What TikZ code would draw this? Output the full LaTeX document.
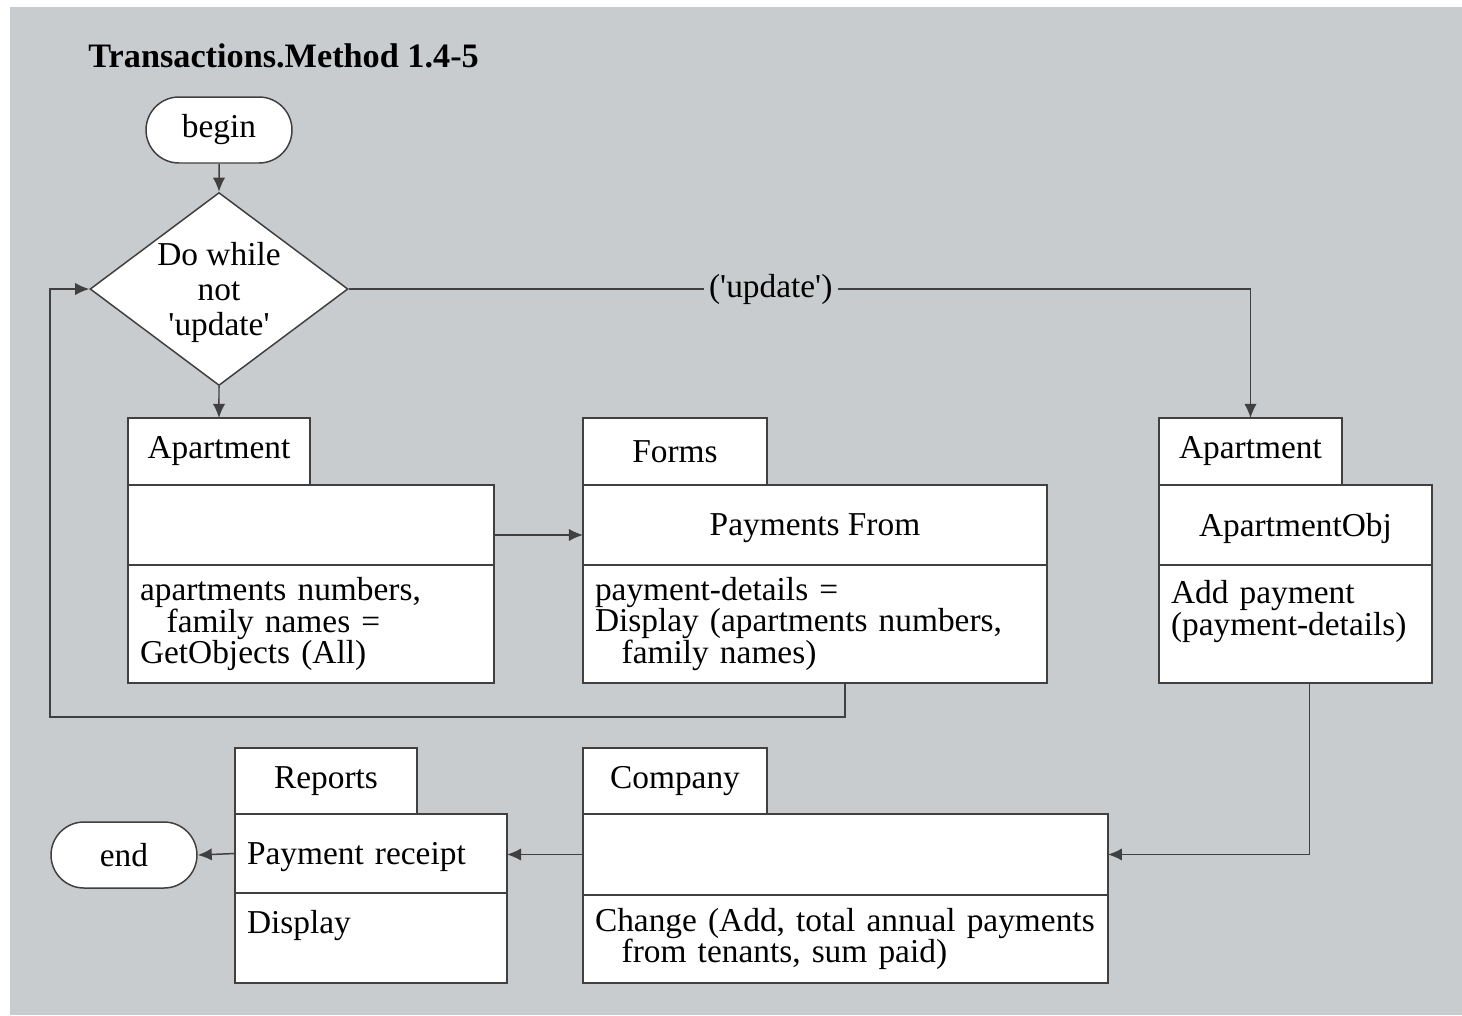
\documentclass[tikz,border=0pt]{standalone}
\usepackage{fontspec}
\setmainfont{Liberation Serif}
\usetikzlibrary{shapes.geometric,shapes.misc,arrows.meta,positioning}
\definecolor{bggrey}{RGB}{201,204,207}
\definecolor{edge}{RGB}{64,64,64}
\newcommand{\sq}{\textquotesingle}

\begin{document}
\begin{tikzpicture}[
  x=0.02cm, y=-0.02cm,
  font=\fontsize{19}{18.1}\selectfont,
  >={Latex[length=8pt,width=7pt]},
  term/.style={rounded rectangle, draw=edge, fill=white, line width=0.85pt,
               minimum width=2.92cm, minimum height=1.32cm, inner sep=0pt},
  cond/.style={diamond, draw=edge, fill=white, line width=0.85pt, align=center,
               shape aspect=1.34, minimum width=5.16cm, minimum height=3.86cm,
               inner sep=-0.25cm, text depth=0pt, font=\fontsize{19}{20}\selectfont},
  tab/.style={rectangle, draw=edge, fill=white, line width=0.85pt, anchor=north west,
              minimum height=1.34cm, inner sep=0pt, outer sep=0pt},
  part/.style={rectangle, draw=edge, fill=white, line width=0.85pt,
               inner xsep=0.24cm, inner ysep=0pt, outer sep=0pt},
  head/.style={part, anchor=north west, text depth=0pt},
  flow/.style={->, draw=edge, line width=0.85pt},
  fl/.style={fill=bggrey, inner sep=3pt},
]

\useasboundingbox (0,0) rectangle (1462,1015);
\fill[bggrey] (10,7) rectangle (1462,1015);

\node[anchor=base west, inner sep=0pt, font=\fontsize{19.5}{18}\selectfont\bfseries] (title) at (88,67) {Transactions.Method 1.4-5};

\node[term] (begin) at (219,130) {begin};
\node[cond] (loop)  at (219,289) {Do while\\not\\\sq update\sq};

% Apartment -> Forms
\node[tab, minimum width=3.64cm] (ap1tab) at (128,418) {Apartment};
\node[head, minimum width=7.32cm, minimum height=1.6cm] (ap1up) at (ap1tab.south west) {};
\node[part, below=0pt of ap1up, text width=6.84cm, minimum height=2.36cm, align=left] (ap1low)
  {apartments numbers,\\\hspace*{0.8em}family names =\\GetObjects (All)};

\node[tab, minimum width=3.68cm] (fmtab) at (583,418) {Forms};
\node[head, minimum width=9.28cm, minimum height=1.6cm] (fmup) at (fmtab.south west) {Payments From};
\node[part, below=0pt of fmup, text width=8.8cm, minimum height=2.36cm, align=left] (fmlow)
  {payment-details =\\Display (apartments numbers,\\\hspace*{0.8em}family names)};

% on 'update'
\node[tab, minimum width=3.66cm] (ap2tab) at (1159,418) {Apartment};
\node[head, minimum width=5.46cm, minimum height=1.6cm] (ap2up) at (ap2tab.south west) {ApartmentObj};
\node[part, below=0pt of ap2up, text width=4.98cm, minimum height=2.36cm, align=left] (ap2low)
  {Add payment\\(payment-details)\\~};

\node[tab, minimum width=3.68cm, minimum height=1.32cm] (cotab) at (583,748) {Company};
\node[head, minimum width=10.5cm, minimum height=1.62cm] (coup) at (cotab.south west) {};
\node[part, below=0pt of coup, text width=10.02cm, minimum height=1.76cm, align=left] (colow)
  {Change (Add, total annual payments\\\hspace*{0.8em}from tenants, sum paid)};

\node[tab, minimum width=3.64cm, minimum height=1.32cm] (rptab) at (235,748) {Reports};
\node[head, text width=4.96cm, minimum height=1.58cm, align=left] (rpup) at (rptab.south west) {Payment receipt};
\node[part, below=0pt of rpup, text width=4.96cm, minimum height=1.8cm, align=left] (rplow) {Display\\~};

\node[term] (end) at (124,855) {end};

\coordinate (back) at (50,717);

\draw[flow] (begin) -- (loop);
\draw[flow] (loop.south) -- (ap1tab.north);
\draw[flow] ([yshift=-0.2cm]ap1up.east) -- ([yshift=-0.2cm]fmup.west);
\draw[flow] ([xshift=0.6cm]fmlow.south) |- (back) |- (loop.west);
\draw[flow] (loop.east) -| node[fl, pos=0.234] (upd) {(\sq update\sq)} (ap2tab.north);
\draw[flow] ([xshift=0.28cm]ap2low.south) |- (coup.east);
\draw[flow] (coup.west) -- (coup.west -| rpup.east);
\draw[flow] (rpup.west) -- (end.east);

\end{tikzpicture}
\end{document}
